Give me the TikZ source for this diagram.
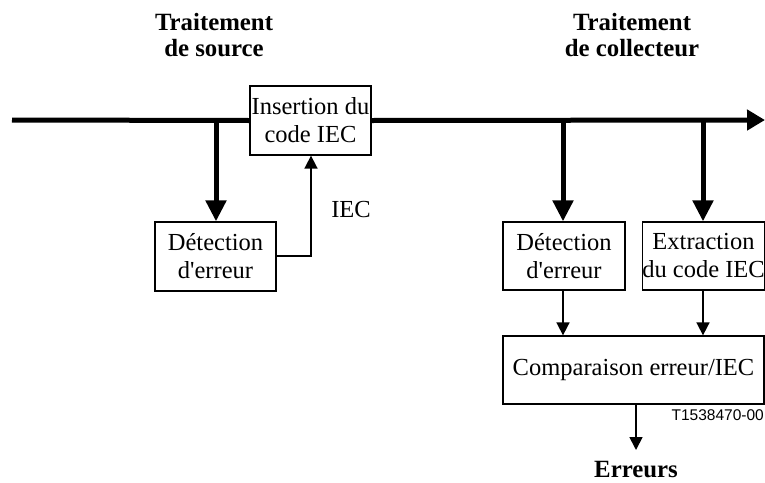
\documentclass[tikz,border=0pt]{standalone}
\usepackage{fontspec}
\setmainfont{Liberation Serif}
\newfontfamily\labelsans{Liberation Sans}
\usetikzlibrary{arrows.meta}
\begin{document}
\begin{tikzpicture}[x=1pt,y=-1pt,
  box/.style={draw,line width=1.3pt,inner sep=0pt,align=center,
    font=\fontsize{24.5}{28}\selectfont},
  title/.style={align=center,font=\fontsize{24.8}{26}\selectfont\bfseries},
  bus/.style={line width=5pt,-{Triangle[length=18pt,width=20pt]}},
  tap/.style={line width=5pt,-{Triangle[length=21pt,width=20pt]}},
  thin/.style={line width=1.7pt,-{Triangle[length=13pt,width=13pt]}}]
\useasboundingbox (0,0) rectangle (765,482);

% titles
\node[title] (tsrc) at (214,35) {Traitement\\de source};
\node[title] (tcol) at (632,35) {Traitement\\de collecteur};

% boxes
\node[box,minimum width=121pt,minimum height=69pt] (ins) at (310.5,120.5) {Insertion du\\code IEC};
\node[box,minimum width=121pt,minimum height=69pt] (det1) at (215.5,256.5) {Détection\\d\textquotesingle erreur};
\node[box,minimum width=122pt,minimum height=68pt] (det2) at (564,256) {Détection\\d\textquotesingle erreur};
\node[box,minimum width=121pt,minimum height=68pt] (ext) at (703.5,256) {Extraction\\du code IEC};
\node[box,minimum width=261pt,minimum height=68pt] (cmp) at (633.5,370) {Comparaison erreur/IEC};

% main signal line
\coordinate (start) at (12,120);
\coordinate (endp) at (765,120);
\draw[line width=5pt] (start) -- (ins.west);
\draw[bus] (ins.east) -- (endp);

% taps from the signal line
\coordinate (t1) at (216,120);
\coordinate (t2) at (563,120);
\coordinate (t3) at (703,120);
\draw[tap] (t1) -- (t1 |- det1.north);
\draw[tap] (t2) -- (t2 |- det2.north);
\draw[tap] (t3) -- (t3 |- ext.north);

% IEC feedback
\coordinate (iecx) at (311,256);
\draw[thin] (det1.east |- iecx) -- (iecx) -- (iecx |- ins.south);
\node[font=\fontsize{24.5}{28}\selectfont] (ieclab) at (351,210) {IEC};

% into the comparator
\draw[thin] (t2 |- det2.south) -- (t2 |- cmp.north);
\draw[thin] (t3 |- ext.south) -- (t3 |- cmp.north);

% output
\coordinate (outp) at (636,450);
\draw[thin] (outp |- cmp.south) -- (outp);
\node[font=\fontsize{24.8}{26}\selectfont\bfseries,inner sep=0pt] (err) at (636,470) {Erreurs};
\node[anchor=east,font=\labelsans\fontsize{15.5}{18}\selectfont,inner sep=0pt] (ref) at (764,415) {T1538470-00};
\end{tikzpicture}
\end{document}
